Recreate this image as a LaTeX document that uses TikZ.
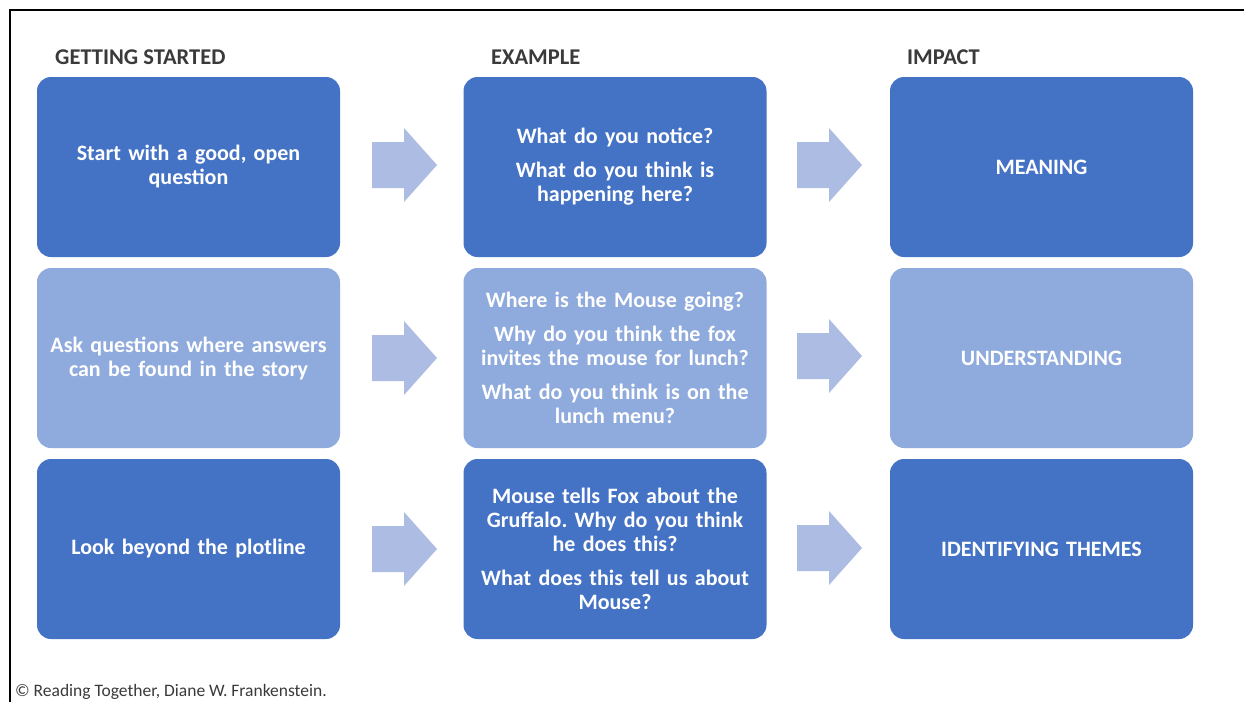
\documentclass[tikz,border=0pt]{standalone}
\usepackage{fontspec}
\setmainfont{Carlito}
\definecolor{darkbox}{HTML}{4472C4}
\definecolor{lightbox}{HTML}{8FAADC}
\definecolor{arrowc}{HTML}{ADBCE2}
\definecolor{headc}{HTML}{3A3A3A}
\begin{document}
\frenchspacing
\begin{tikzpicture}[x=1pt,y=-1pt,
  cardbox/.style={rounded corners=14pt, minimum width=303pt, minimum height=180pt,
    align=center, text=white, font=\fontsize{22}{24}\selectfont\bfseries, inner sep=4pt, text width=290pt},
  darkcard/.style={cardbox, fill=darkbox},
  lightcard/.style={cardbox, fill=lightbox},
  colhead/.style={anchor=west, text=headc, font=\fontsize{22.5}{24}\selectfont\bfseries, inner sep=0pt},
  bigarrow/.style={fill=arrowc}
]
\useasboundingbox (0,0) rectangle (1244,702);
\fill[white] (0,0) rectangle (1244,702);
\draw[line width=2.5pt] (10,702) -- (10,10) -- (1244,10);

\node[colhead] (h1) at (55,57) {GETTING STARTED};
\node[colhead] (h2) at (491,57) {EXAMPLE};
\node[colhead] (h3) at (907,57) {IMPACT};

% row 1
\node[darkcard] (a1) at (188.5,167) {Start with a good, open\\question};
\node[darkcard] (b1) at (615,167) {What do you notice?\\[10pt]What do you think is\\happening here?};
\node[darkcard] (c1) at (1041.5,167) {MEANING};
% row 2
\node[lightcard] (a2) at (188.5,358) {Ask questions where answers\\can be found in the story};
\node[lightcard] (b2) at (615,358) {Where is the Mouse going?\\[10pt]Why do you think the fox\\invites the mouse for lunch?\\[10pt]What do you think is on the\\lunch menu?};
\node[lightcard] (c2) at (1041.5,358) {UNDERSTANDING};
% row 3
\node[darkcard] (a3) at (188.5,549) {Look beyond the plotline};
\node[darkcard] (b3) at (615,549) {Mouse tells Fox about the\\Gruffalo. Why do you think\\he does this?\\[10pt]What does this tell us about\\Mouse?};
\node[darkcard] (c3) at (1041.5,549) {IDENTIFYING THEMES};

% arrows
\foreach \n/\x/\y in {p1/372/165, p2/372/358, p3/372/549, q1/797/165, q2/797/356, q3/797/548}{
  \coordinate (\n) at (\x,\y);
  \fill[bigarrow] (\n) ++(0,-23) -- ++(32,0) -- ++(0,-14) -- ++(33,37) -- ++(-33,37) -- ++(0,-14) -- ++(-32,0) -- cycle;
}

\node[anchor=west, text=headc, font=\fontsize{17.5}{20}\selectfont, inner sep=0pt] (copy) at (15,692) {© Reading Together, Diane W. Frankenstein.};
\end{tikzpicture}
\end{document}
